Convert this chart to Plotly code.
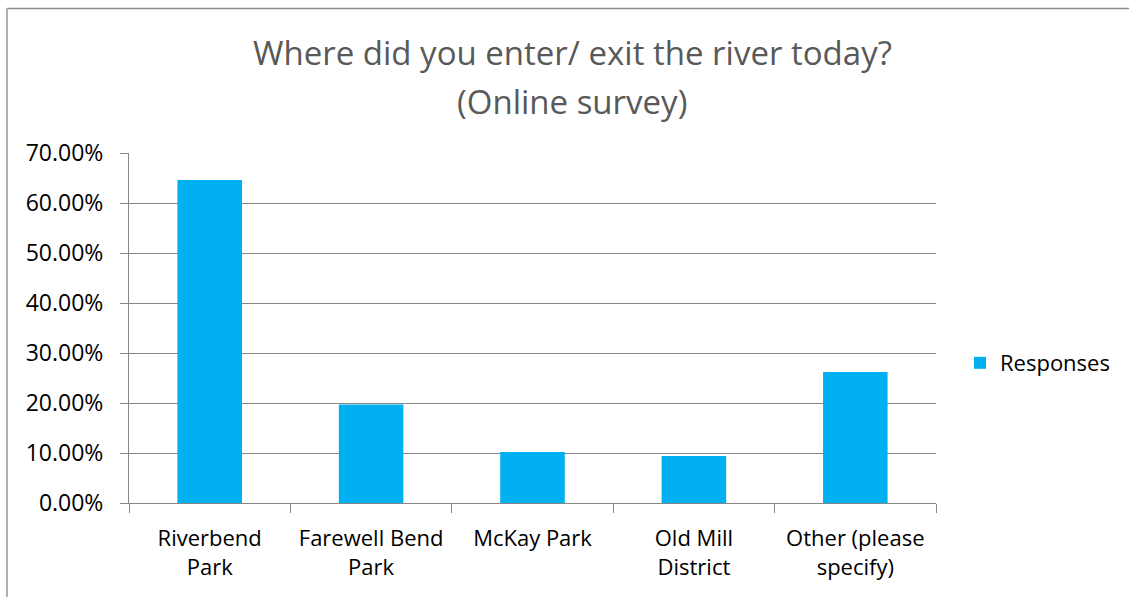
import plotly.graph_objects as go

categories = ["Riverbend<br>Park", "Farewell Bend<br>Park", "McKay Park", "Old Mill<br>District", "Other (please<br>specify)"]
values = [0.646, 0.197, 0.102, 0.094, 0.262]
series_name = "Responses"
title_line1 = "Where did you enter/ exit the river today?"
title_line2 = "(Online survey)"

W, H = 1129, 597
L, R, T, B = 129, 193, 153, 94
FONT = "Open Sans, Liberation Sans, sans-serif"

fig = go.Figure()
fig.add_trace(go.Bar(x=categories, y=values, name=series_name,
                     marker=dict(color="#00B0F0", line=dict(width=0)),
                     showlegend=True))

def px_x(p):
    return (p - L) / (W - L - R)

def px_y(p):
    return (H - B - p) / (H - T - B)

fig.update_layout(
    width=W, height=H,
    margin=dict(l=L, r=R, t=T, b=B, autoexpand=False),
    paper_bgcolor="white", plot_bgcolor="white",
    bargap=0.6,
    font=dict(family=FONT, color="black", size=22),
    showlegend=True,
    legend=dict(x=px_x(960), y=px_y(363), xanchor="left", yanchor="middle",
                xref="paper", yref="paper",
                font=dict(family=FONT, size=22, color="black"),
                bgcolor="rgba(0,0,0,0)", itemwidth=30),
    xaxis=dict(type="category", showgrid=False, showline=True, linecolor="#868686", linewidth=1,
               ticks="outside", tickson="boundaries", ticklen=9, tickcolor="#868686",
               ticklabelstandoff=16,
               tickfont=dict(family=FONT, size=22, color="black"), fixedrange=True),
    yaxis=dict(range=[0, 0.7], dtick=0.1, tick0=0, tickformat=".2%",
               showgrid=True, gridcolor="#868686", gridwidth=1,
               showline=True, linecolor="#868686", linewidth=1,
               ticks="outside", ticklen=8, tickcolor="#868686",
               ticklabelstandoff=12,
               tickfont=dict(family=FONT, size=23, color="black"),
               zeroline=False, fixedrange=True),
    annotations=[
        dict(text=title_line1, xref="paper", yref="paper", x=px_x(572), y=px_y(52),
             xanchor="center", yanchor="middle", showarrow=False,
             font=dict(family=FONT, size=33, color="#595959")),
        dict(text=title_line2, xref="paper", yref="paper", x=px_x(572), y=px_y(101),
             xanchor="center", yanchor="middle", showarrow=False,
             font=dict(family=FONT, size=33, color="#595959")),
    ],
    shapes=[
        dict(type="line", xref="paper", yref="paper", x0=px_x(7), x1=px_x(1140),
             y0=px_y(8.5), y1=px_y(8.5), line=dict(color="#8c8c8c", width=1.5)),
        dict(type="line", xref="paper", yref="paper", x0=px_x(7), x1=px_x(7),
             y0=px_y(8), y1=px_y(610), line=dict(color="#b0b0b0", width=2)),
    ],
)

fig.write_html("out.html")
